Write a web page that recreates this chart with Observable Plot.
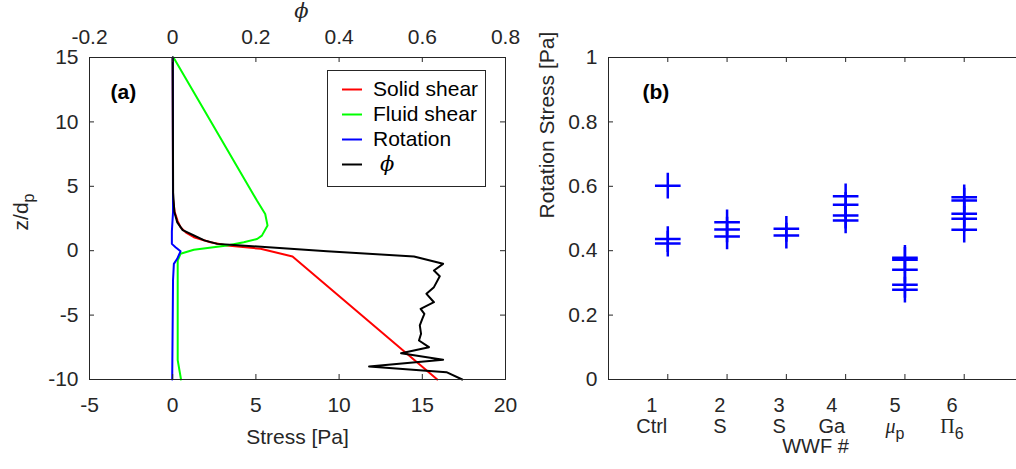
<!DOCTYPE html>
<html><head><meta charset="utf-8">
<script src="https://cdn.jsdelivr.net/npm/d3@7"></script>
<script src="https://cdn.jsdelivr.net/npm/@observablehq/plot@0.6"></script>
<style>
html,body{margin:0;padding:0;background:#fff;}
body{width:1016px;height:469px;overflow:hidden;position:relative;font-family:"Liberation Sans",Arial,sans-serif;}
#a,#b{position:absolute;top:0;width:520px;height:469px;}
#a{left:0;} #b{left:520px;}
#a svg,#b svg{max-width:none !important;}
#legend{position:absolute;left:327px;top:70px;width:157px;height:115px;border:1px solid #262626;background:#fff;box-sizing:content-box;}
#legend .row{position:absolute;left:0;height:24px;line-height:24px;font-size:21px;color:#000;white-space:nowrap;}
#legend svg{position:absolute;left:14px;top:0;}
#legend span{position:absolute;left:45px;top:0;}
</style></head>
<body>
<div id="a"></div>
<div id="b"></div>
<div id="legend"></div>
<script>
// ---------- Panel (a): stress profiles ----------
const solidZ  = [15, 4, 3, 2.3, 1.83, 1.4, 1.05, 0.66, 0.4, 0.15, -0.45, -10];
const solidPa = [0, 0.02, 0.12, 0.3, 0.47, 0.8, 1.27, 2.27, 3.27, 5.28, 7.2, 15.9];
const fluidZ  = [15, 3.88, 2.85, 1.95, 1.17, 0.91, 0.66, 0.4, 0.07, -0.24, -0.76, -2, -8.5, -10];
const fluidPa = [0.05, 5.07, 5.56, 5.7, 5.36, 5.07, 4.27, 3.27, 1.27, 0.47, 0.3, 0.3, 0.3, 0.5];
const rotZ    = [15, 3, 1.5, 0.53, 0.27, -0.05, -0.63, -1.02, -2.3, -10];
const rotPa   = [0, 0.02, -0.05, -0.05, 0.17, 0.47, 0.27, 0.07, 0.02, -0.03];
const phiZ    = [15, 4.5, 3, 2.2, 1.6, 1.18, 0.8, 0.53, 0.45, 0.15, -0.04, -0.45, -1.02, -1.54, -1.98, -2.83, -3.35, -4.0, -4.51, -4.9, -5.29, -5.8, -6.45, -6.97, -7.49, -7.96, -8.47, -8.99, -9.43, -10];
const phiVals = [0, 0.001, 0.004, 0.011, 0.024, 0.051, 0.076, 0.107, 0.147, 0.283, 0.371, 0.58, 0.65, 0.628, 0.642, 0.628, 0.61, 0.628, 0.596, 0.605, 0.6, 0.594, 0.597, 0.592, 0.616, 0.549, 0.65, 0.472, 0.658, 0.696];

const stressTicks = [-5, 0, 5, 10, 15, 20];
const phiTicks    = [-0.2, 0, 0.2, 0.4, 0.6, 0.8];
const zTicks      = [-10, -5, 0, 5, 10, 15];
const legendLabels = ["Solid shear", "Fluid shear", "Rotation", "ϕ"];
const legendColors = ["#ff0000", "#00ff00", "#0000ff", "#000000"];

// ---------- Panel (b): rotation stress per WWF ----------
const wwfNumbers = [1, 2, 3, 4, 5, 6];
const wwfBase = ["Ctrl", "S", "S", "Ga", "μ", "Π"];
const wwfSub  = ["", "", "", "", "p", "6"];
const rotationStress = [
  [0.602, 0.436, 0.422],
  [0.4885, 0.466, 0.444],
  [0.468, 0.447],
  [0.569, 0.5425, 0.509, 0.494],
  [0.378, 0.372, 0.341, 0.294, 0.279],
  [0.566, 0.556, 0.5145, 0.499, 0.465]
];
const rsTicks = [0, 0.2, 0.4, 0.6, 0.8, 1];

// ---------- shared style ----------
const AX = "#262626";
const FS = 21;
const FSC = 20; // category tick labels
const H = 469, MT = 57, MB = 90;
const plotH = H - MT - MB;
const tickLen = 5;
const fmt = d => String(d);
const baseStyle = {fontFamily: "'Liberation Sans', Arial, sans-serif", fontSize: FS + "px", color: AX, background: "transparent", maxWidth: "none"};

// phi shares the stress axis: phi range [-0.2,0.8] <-> stress range [-5,20]
const phiToStress = 25;

const series = (zs, xs) => zs.map((z, i) => ({z, v: xs[i]}));

// Panel a
const WA = 520, MLA = 89, MRA = 15;
const plotWA = WA - MLA - MRA;
const chartA = Plot.plot({
  width: WA, height: H,
  marginLeft: MLA, marginRight: MRA, marginTop: MT, marginBottom: MB,
  style: baseStyle,
  x: {domain: [-5, 20], axis: null},
  y: {domain: [-10, 15], axis: null},
  marks: [
    Plot.line(series(solidZ, solidPa), {x: "v", y: "z", stroke: legendColors[0], strokeWidth: 2}),
    Plot.line(series(fluidZ, fluidPa), {x: "v", y: "z", stroke: legendColors[1], strokeWidth: 2}),
    Plot.line(series(rotZ, rotPa), {x: "v", y: "z", stroke: legendColors[2], strokeWidth: 2}),
    Plot.line(series(phiZ, phiVals), {x: d => d.v * phiToStress, y: "z", stroke: legendColors[3], strokeWidth: 2}),
    Plot.frame({stroke: AX}),
    Plot.tickX(stressTicks, {x: d => d, insetTop: plotH - tickLen, stroke: AX}),
    Plot.tickX(phiTicks, {x: d => d * phiToStress, insetBottom: plotH - tickLen, stroke: AX}),
    Plot.tickY(zTicks, {y: d => d, insetRight: plotWA - tickLen, stroke: AX}),
    Plot.tickY(zTicks, {y: d => d, insetLeft: plotWA - tickLen, stroke: AX}),
    Plot.axisX(stressTicks, {anchor: "bottom", tickSize: 0, tickPadding: 18, tickFormat: fmt, label: null, fontSize: FS}),
    Plot.axisX(phiTicks.map(d => d * phiToStress), {anchor: "top", tickSize: 0, tickPadding: 14, tickFormat: d => fmt(Math.round(d / phiToStress * 10) / 10), label: null, fontSize: FS}),
    Plot.axisY(zTicks, {anchor: "left", tickSize: 0, tickPadding: 11, tickFormat: fmt, label: null, fontSize: FS}),
    Plot.text(["Stress [Pa]"], {frameAnchor: "bottom", lineAnchor: "middle", dy: 58, fontSize: FS, fill: AX}),
    Plot.text(["ϕ"], {frameAnchor: "top", lineAnchor: "middle", dx: 4, dy: -46, fontSize: 21, fontStyle: "italic", fontFamily: "'DejaVu Serif', serif", fill: AX}),
    Plot.text(["(a)"], {frameAnchor: "top-left", lineAnchor: "middle", textAnchor: "start", dx: 21, dy: 35, fontSize: FS, fontWeight: "bold", fill: "#000"})
  ]
});
document.getElementById("a").appendChild(chartA);

// z/d_p label with subscript
{
  const t = d3.select(chartA).append("text")
    .attr("transform", `translate(28,${MT + plotH / 2 - 6}) rotate(-90)`)
    .attr("text-anchor", "middle")
    .attr("font-size", FS).attr("fill", AX)
    .attr("font-family", "'Liberation Sans', Arial, sans-serif");
  t.append("tspan").text("z/d");
  t.append("tspan").attr("dy", 6).attr("font-size", 16).text("p");
}

// Panel b
const WB = 520, MLB = 88, MRB = 17;
const catData = rotationStress.flatMap((vals, i) => vals.map(v => ({wwf: wwfNumbers[i], v})));
const chartB = Plot.plot({
  width: WB, height: H,
  marginLeft: MLB, marginRight: MRB, marginTop: MT, marginBottom: MB,
  style: baseStyle,
  x: {domain: [0, 7], axis: null},
  y: {domain: [0, 1], axis: null},
  marks: [
    Plot.frame({stroke: AX}),
    Plot.tickX(wwfNumbers, {x: d => d, insetTop: plotH - tickLen, stroke: AX}),
    Plot.tickX(wwfNumbers, {x: d => d, insetBottom: plotH - tickLen, stroke: AX}),
    Plot.tickY(rsTicks, {y: d => d, insetRight: (WB - MLB - MRB) - tickLen, stroke: AX}),
    Plot.axisY(rsTicks, {anchor: "left", tickSize: 0, tickPadding: 11, tickFormat: fmt, label: null, fontSize: FS}),
    Plot.dot(catData, {x: "wwf", y: "v", symbol: "plus", r: 8.3, stroke: "#0000ff", strokeWidth: 2.5}),
    Plot.text(["Rotation Stress [Pa]"], {frameAnchor: "left", lineAnchor: "middle", dx: -61, rotate: -90, fontSize: FS, fill: AX}),
    Plot.text(["(b)"], {frameAnchor: "top-left", lineAnchor: "middle", textAnchor: "start", dx: 34, dy: 35, fontSize: FS, fontWeight: "bold", fill: "#000"})
  ]
});
document.getElementById("b").appendChild(chartB);

// category tick labels (number over name), MATLAB-style left-aligned blocks
{
  const sx = chartB.scale("x");
  const svg = d3.select(chartB);
  wwfNumbers.forEach((n, i) => {
    const g = svg.append("g").attr("fill", AX).attr("font-size", FSC)
      .attr("font-family", "'Liberation Sans', Arial, sans-serif");
    const t1 = g.append("text").attr("y", 412).text(String(n));
    const t2 = g.append("text").attr("y", 433);
    const greek = wwfSub[i] !== "";
    const b = t2.append("tspan").text(wwfBase[i]);
    if (greek) {
      b.attr("font-family", "'Liberation Serif', 'DejaVu Serif', serif")
       .attr("font-style", wwfBase[i] === "μ" ? "italic" : "normal");
      t2.append("tspan").attr("dy", 6).attr("font-size", 16).text(wwfSub[i]);
    }
    const w = Math.max(t1.node().getComputedTextLength(), t2.node().getComputedTextLength());
    g.attr("transform", `translate(${sx.apply(n) - w / 2},0)`);
  });
  const dom = sx.domain;
  svg.append("text").attr("x", sx.apply((dom[0] + dom[1]) / 2)).attr("y", 453).attr("text-anchor", "middle")
    .attr("fill", AX).attr("font-size", FSC).attr("font-family", "'Liberation Sans', Arial, sans-serif")
    .text("WWF #");
}

// legend
{
  const lg = d3.select("#legend");
  legendLabels.forEach((lab, i) => {
    const row = lg.append("div").attr("class", "row").style("top", (6 + i * 24.8 + (i === 3 ? 1 : 0)) + "px").style("width", "157px");
    const s = row.append("svg").attr("width", 22).attr("height", 24);
    s.append("line").attr("x1", 0).attr("x2", 20).attr("y1", 12.5).attr("y2", 12.5)
      .attr("stroke", legendColors[i]).attr("stroke-width", 2);
    const sp = row.append("span").text(lab);
    if (i === 3) sp.style("font-family", "'DejaVu Serif', serif").style("font-style", "italic").style("left", "52px");
  });
}
</script>
</body></html>
